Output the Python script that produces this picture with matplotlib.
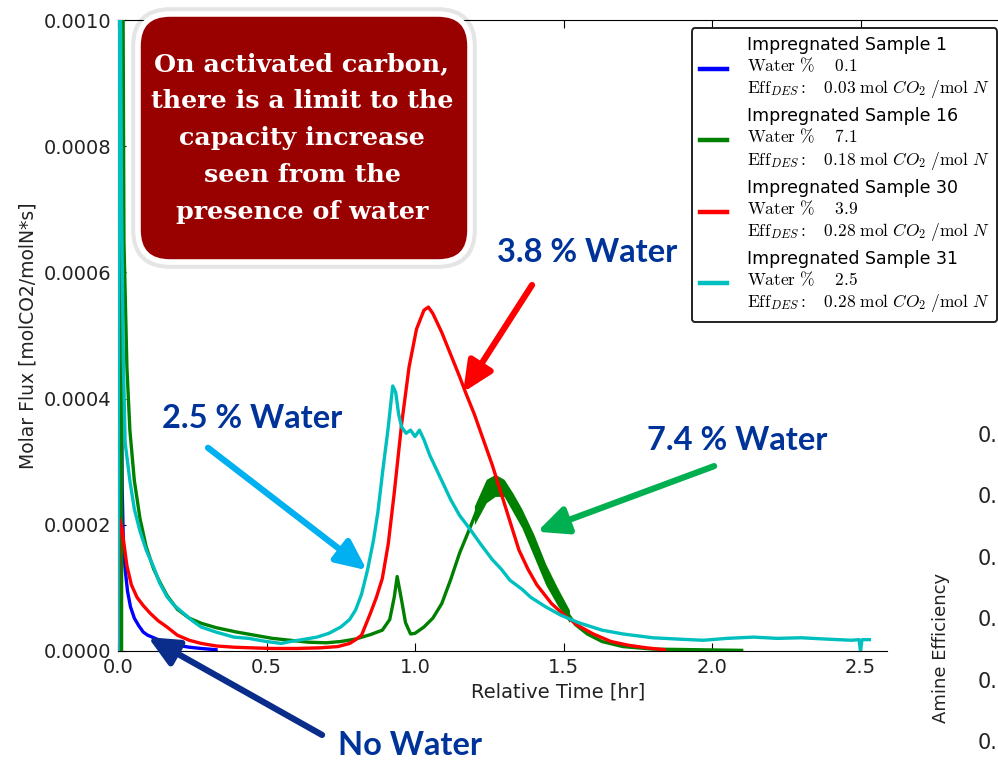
import matplotlib
matplotlib.use("Agg")
import matplotlib.pyplot as plt
from matplotlib.patches import FancyBboxPatch
from matplotlib.transforms import IdentityTransform

# Molar flux curves.
# time in hr, flux in units of 1e-4 molCO2/molN*s
t_s1 = [0.0, 0.003, 0.006, 0.010, 0.014, 0.018, 0.024, 0.032, 0.042, 0.055, 0.07,
        0.085, 0.10, 0.12, 0.14, 0.17, 0.20, 0.24, 0.28, 0.33]
f_s1 = [0.0, 14.0, 10.0, 5.0, 2.6, 1.7, 1.30, 0.95, 0.70, 0.52, 0.40,
        0.30, 0.25, 0.21, 0.17, 0.13, 0.09, 0.06, 0.04, 0.02]

t_s16 = [0.0, 0.012, 0.014, 0.02, 0.03, 0.04, 0.055, 0.074, 0.095, 0.12, 0.14, 0.165,
         0.2, 0.24, 0.28, 0.33, 0.4, 0.46, 0.52, 0.58, 0.64, 0.70, 0.75, 0.80, 0.85,
         0.89, 0.915, 0.93, 0.94, 0.955, 0.968, 0.985, 1.0, 1.03, 1.06, 1.09, 1.12,
         1.15, 1.185, 1.21, 1.24, 1.27, 1.30, 1.33, 1.36, 1.39,
         1.42, 1.45, 1.48, 1.51, 1.54, 1.58, 1.63, 1.7, 1.8, 1.95, 2.1]
f_s16 = [0.0, 0.0, 14.0, 6.5, 4.5, 3.5, 2.7, 2.1, 1.65, 1.3, 1.1, 0.88,
         0.66, 0.52, 0.44, 0.37, 0.3, 0.25, 0.2, 0.17, 0.14, 0.13, 0.15, 0.19, 0.26,
         0.33, 0.5, 0.85, 1.18, 0.8, 0.45, 0.27, 0.28, 0.38, 0.52, 0.75, 1.13,
         1.55, 1.95, 2.25, 2.5, 2.6, 2.58, 2.35, 2.1, 1.8,
         1.45, 1.15, 0.88, 0.62, 0.42, 0.27, 0.15, 0.07, 0.03, 0.02, 0.01]
# thick noisy band around the sample 16 peak (lower / upper edge)
t_s16_band = [1.20, 1.24, 1.27, 1.30, 1.33, 1.36, 1.40, 1.44, 1.48, 1.52]
lo_s16_band = [2.0, 2.35, 2.45, 2.45, 2.2, 1.95, 1.5, 1.05, 0.72, 0.45]
hi_s16_band = [2.3, 2.72, 2.8, 2.72, 2.5, 2.25, 1.85, 1.38, 1.0, 0.65]

t_s30 = [0.0, 0.004, 0.013, 0.03, 0.045, 0.064, 0.085, 0.108, 0.135, 0.165, 0.2, 0.24,
         0.28, 0.33, 0.39, 0.45, 0.52, 0.6, 0.68, 0.74, 0.78, 0.80, 0.82, 0.85, 0.87,
         0.89, 0.91, 0.93, 0.955, 0.98, 1.005, 1.03, 1.045, 1.06, 1.09, 1.12, 1.15,
         1.17, 1.2, 1.23, 1.26, 1.29, 1.32, 1.35, 1.38, 1.41, 1.46, 1.5, 1.55, 1.6,
         1.66, 1.72, 1.78, 1.84]
f_s30 = [0.0, 2.1, 1.95, 1.35, 1.05, 0.85, 0.72, 0.60, 0.48, 0.38, 0.25, 0.17,
         0.12, 0.08, 0.06, 0.05, 0.04, 0.04, 0.05, 0.07, 0.12, 0.18, 0.25, 0.6, 0.85,
         1.15, 1.7, 2.5, 3.6, 4.5, 5.1, 5.4, 5.45, 5.35, 5.05, 4.7, 4.35,
         4.1, 3.75, 3.35, 2.95, 2.5, 2.05, 1.6, 1.3, 1.05, 0.75, 0.58, 0.4, 0.27,
         0.15, 0.09, 0.05, 0.02]

t_s31 = [0.0, 0.004, 0.012, 0.018, 0.024, 0.04, 0.055, 0.074, 0.095, 0.12, 0.14, 0.165,
         0.19, 0.22, 0.25, 0.28, 0.33, 0.39, 0.44, 0.5, 0.55, 0.58, 0.62, 0.67, 0.71,
         0.75, 0.78, 0.80, 0.82, 0.84, 0.86, 0.875, 0.89, 0.91, 0.925, 0.935, 0.945,
         0.955, 0.97, 0.985, 1.0, 1.015, 1.03, 1.05, 1.07, 1.1, 1.12, 1.15, 1.19, 1.22,
         1.26, 1.29, 1.32, 1.36, 1.39, 1.44, 1.49, 1.55, 1.63, 1.7, 1.8, 1.88, 1.97,
         2.05, 2.14, 2.22, 2.30, 2.38, 2.47, 2.495, 2.50, 2.505, 2.53]
f_s31 = [0.0, 14.0, 7.0, 4.6, 3.3, 2.7, 2.25, 1.9, 1.6, 1.33, 1.08, 0.86,
         0.72, 0.6, 0.48, 0.38, 0.3, 0.22, 0.2, 0.15, 0.12, 0.15, 0.18, 0.22, 0.28,
         0.38, 0.5, 0.65, 0.9, 1.28, 1.75, 2.2, 2.8, 3.55, 4.2, 4.1, 3.75,
         3.55, 3.45, 3.5, 3.4, 3.5, 3.35, 3.1, 2.9, 2.6, 2.4, 2.15, 1.9, 1.7,
         1.45, 1.3, 1.12, 0.98, 0.85, 0.7, 0.57, 0.45, 0.33, 0.27, 0.21, 0.19, 0.17,
         0.2, 0.22, 0.2, 0.21, 0.19, 0.17, 0.18, 0.0, 0.18, 0.18]

samples = ["Impregnated Sample 1", "Impregnated Sample 16",
           "Impregnated Sample 30", "Impregnated Sample 31"]
water_pct = ["0.1", "7.1", "3.9", "2.5"]
eff_des = ["0.03", "0.18", "0.28", "0.28"]
colors = ["#0000ff", "#008000", "#ff0000", "#00bfbf"]

x_ticks = [0.0, 0.5, 1.0, 1.5, 2.0, 2.5]
y_ticks = [0.0, 0.0002, 0.0004, 0.0006, 0.0008, 0.0010]

# callouts: text, text pos, arrow tail, arrow tip (hr, 1e-4 flux)
callouts = [
    ("3.8 % Water", (1.579, 6.32), (1.394, 5.80), (1.162, 4.10), "#ff0000"),
    ("2.5 % Water", (0.451, 3.69), (0.303, 3.22), (0.838, 1.28), "#00b0f0"),
    ("7.4 % Water", (2.084, 3.34), (2.007, 2.93), (1.411, 1.89), "#00b050"),
    ("No Water", (0.983, -1.49), (0.687, -1.33), (0.101, 0.22), "#0a2d8c"),
]

box_text = ("On activated carbon,\nthere is a limit to the\ncapacity increase\n"
            "seen from the\npresence of water")

# partly hidden neighbouring chart on the right edge of the slide
eff_ticks = [0.30, 0.25, 0.20, 0.15, 0.10, 0.05]

plt.rcParams["mathtext.fontset"] = "cm"
plt.rcParams["font.family"] = "DejaVu Sans"

fig = plt.figure(figsize=(9.98, 7.6), dpi=100)
ax = fig.add_axes([118 / 998, 109 / 760, 880 / 998, 631 / 760])

series = [(t_s1, f_s1), (t_s16, f_s16), (t_s30, f_s30), (t_s31, f_s31)]
for i, ((t, f), name, w, e, c) in enumerate(zip(series, samples, water_pct, eff_des, colors)):
    label = (f"{name}\n"
             rf"$\mathrm{{Water\ \%}}\quad\ \mathrm{{{w}}}$" "\n"
             rf"$\mathrm{{Eff}}_{{DES}}:\ \ \ \mathrm{{{e}\ mol}}\ CO_2\ /\mathrm{{mol}}\ N$")
    ax.plot(t, [v * 1e-4 for v in f], color=c, lw=2.4, label=label, zorder=2 + i)
    if i == 1:
        ax.fill_between(t_s16_band, [v * 1e-4 for v in lo_s16_band],
                        [v * 1e-4 for v in hi_s16_band], color=c, lw=0, zorder=2 + i)

ax.set_xlim(0, 880 / 297)
ax.set_ylim(0, 0.001)
ax.set_xticks(x_ticks)
ax.set_yticks(y_ticks)
ax.set_xticklabels([f"{v:.1f}" for v in x_ticks])
ax.set_yticklabels([f"{v:.4f}" for v in y_ticks])
ax.tick_params(direction="in", length=6, top=True, right=False,
               labelsize=14, labelcolor="#222222", pad=5)
ax.spines["right"].set_visible(False)
ax.spines["bottom"].set_bounds(0, 2.59)
ax.set_xlabel("Relative Time [hr]", fontsize=14, color="#222222")
ax.set_ylabel("Molar Flux [molCO2/molN*s]", fontsize=13.5, color="#222222")

leg = ax.legend(loc="upper right", bbox_to_anchor=(0.999, 0.987), borderaxespad=0,
                fontsize=12.5, handlelength=1.6, handletextpad=1.1,
                labelspacing=0.4, borderpad=0.45, fancybox=True, framealpha=1)
leg.get_frame().set_edgecolor("#222222")
leg.get_frame().set_linewidth(1.4)
for h in leg.get_lines():
    h.set_linewidth(3.2)

for text, tpos, tail, tip, c in callouts:
    ax.annotate("", xy=(tip[0], tip[1] * 1e-4), xytext=(tail[0], tail[1] * 1e-4),
                annotation_clip=False,
                arrowprops=dict(arrowstyle="-|>,head_length=1.3,head_width=0.6",
                                mutation_scale=14, lw=4.5, color=c,
                                shrinkA=0, shrinkB=0), zorder=10)
    ax.text(tpos[0], tpos[1] * 1e-4, text, ha="center", va="center",
            fontsize=23.5, fontweight="bold", family="Lato", color="#003399",
            clip_on=False, zorder=10)

# red call-out box (pixel coordinates)
fig.add_artist(FancyBboxPatch((136, 496), 336, 252, boxstyle="round,pad=0,rounding_size=34",
                              fc="none", ec=(0, 0, 0, 0.10), lw=7,
                              transform=IdentityTransform()))
fig.add_artist(FancyBboxPatch((138, 498), 332, 248, boxstyle="round,pad=0,rounding_size=32",
                              fc="#990000", ec="white", lw=4,
                              transform=IdentityTransform()))
fig.text(302 / 998, 1 - 138 / 760, box_text, ha="center", va="center",
         ma="center", color="white", fontsize=18.3, fontweight="bold",
         family="DejaVu Serif", linespacing=1.68)

ax2 = fig.add_axes([1032 / 998, 0, 0.2, 0.5])
ax2.patch.set_visible(False)
for s in ax2.spines.values():
    s.set_visible(False)
ax2.set_ylim(0.0345, 0.344)
ax2.set_xticks([])
ax2.set_yticks(eff_ticks)
ax2.set_yticklabels([f"{v:.2f}" for v in eff_ticks])
ax2.tick_params(length=0, pad=6, labelsize=15, labelcolor="#222222")
ax2.set_ylabel("Amine Efficiency", fontsize=13, color="#222222")
ax2.yaxis.set_label_coords(-0.41, 0.295)

fig.savefig("out.png", dpi=100)
